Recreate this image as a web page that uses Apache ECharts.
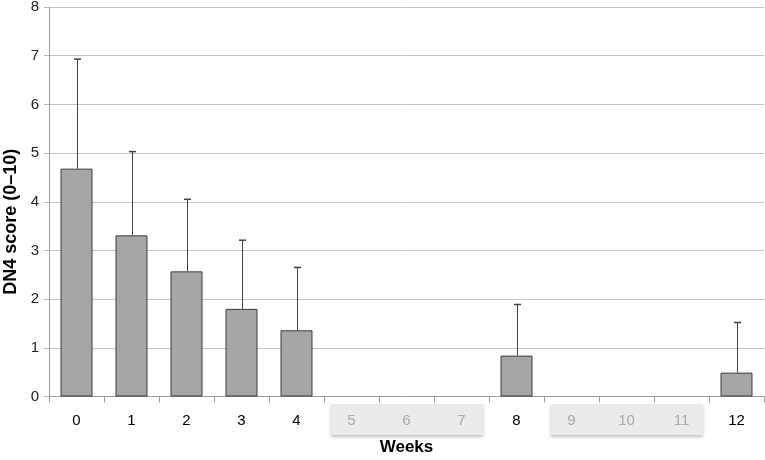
<!DOCTYPE html>
<html><head><meta charset="utf-8">
<script src="https://cdn.jsdelivr.net/npm/echarts@6/dist/echarts.min.js"></script>
<style>html,body{margin:0;padding:0;background:#fff}#c{width:765px;height:460px}</style>
</head><body><div id="c"></div>
<script>
var weeks = ['0','1','2','3','4','5','6','7','8','9','10','11','12'];
var means = [4.68, 3.31, 2.57, 1.80, 1.36, null, null, null, 0.84, null, null, null, 0.49];
var upper = [6.93, 5.03, 4.05, 3.21, 2.65, null, null, null, 1.89, null, null, null, 1.52];
var greyed = ['5','6','7','9','10','11'];
var greyGroups = [['5','7'], ['9','11']];
var yTicks = [0,1,2,3,4,5,6,7,8];

var chart = echarts.init(document.getElementById('c'));
var font = '"Liberation Sans", Arial, sans-serif';
var errData = [];
for (var i = 0; i < weeks.length; i++) {
  if (means[i] != null) errData.push([i, means[i], upper[i]]);
}
chart.setOption({
  animation: false,
  grid: {left: 49, right: 1, top: 7, bottom: 63.5, containLabel: false, outerBoundsMode: 'none'},
  xAxis: {
    type: 'category', data: weeks, boundaryGap: true,
    name: 'Weeks', nameLocation: 'middle', nameGap: 42,
    nameTextStyle: {fontFamily: font, fontWeight: 'bold', fontSize: 17, color: '#000'},
    axisLine: {lineStyle: {color: '#9a9a9a'}},
    axisTick: {show: true, alignWithLabel: false, length: 6, lineStyle: {color: '#9a9a9a'}},
    axisLabel: {
      fontFamily: font, fontSize: 15, margin: 17, interval: 0,
      color: function (v) { return greyed.indexOf(v) >= 0 ? '#a8a8a8' : '#000'; }
    }
  },
  yAxis: {
    type: 'value', min: 0, max: 8, interval: 1,
    name: 'DN4 score (0–10)', nameLocation: 'middle', nameGap: 25, nameRotate: 90,
    nameTextStyle: {fontFamily: font, fontWeight: 'bold', fontSize: 18, color: '#000', padding: [0, 40, 0, 0]},
    axisLine: {show: true, lineStyle: {color: '#9a9a9a'}},
    axisTick: {show: true, length: 5, lineStyle: {color: '#bbbbbb'}},
    axisLabel: {fontFamily: font, fontSize: 15, color: '#222', margin: 10},
    splitLine: {show: true, lineStyle: {color: '#c4c4c4', width: 1}}
  },
  series: [{
    type: 'bar', data: means, barWidth: 32,
    itemStyle: {color: '#a6a6a6', borderColor: '#3c3c3c', borderWidth: 1}
  }, {
    type: 'custom', data: errData, z: 5,
    renderItem: function (params, api) {
      var x = api.value(0);
      var top = api.coord([x, api.value(2)]);
      var base = api.coord([x, api.value(1)]);
      var cx = Math.round(top[0]) + 0.5;
      return {type: 'group', children: [
        {type: 'line', shape: {x1: cx, y1: top[1], x2: cx, y2: base[1]}, style: {stroke: '#404040', lineWidth: 1}},
        {type: 'line', shape: {x1: cx - 3.5, y1: top[1], x2: cx + 3.5, y2: top[1]}, style: {stroke: '#404040', lineWidth: 1.5}}
      ]};
    }
  }]
});

var gfx = [];
greyGroups.forEach(function (g) {
  var a = chart.convertToPixel({xAxisIndex: 0}, g[0]);
  var b = chart.convertToPixel({xAxisIndex: 0}, g[1]);
  var p0 = chart.convertToPixel({xAxisIndex: 0}, '0');
  var p1 = chart.convertToPixel({xAxisIndex: 0}, '1');
  var bw = p1 - p0;
  var x0 = a - bw / 2 + 7, x1 = b + bw / 2 - 6;
  gfx.push({type: 'rect', z: -10, shape: {x: x0, y: 404, width: x1 - x0, height: 31},
    style: {fill: '#ebebeb', shadowBlur: 3, shadowOffsetY: 2, shadowColor: 'rgba(0,0,0,0.25)'}});
});
chart.setOption({graphic: gfx});
</script></body></html>
